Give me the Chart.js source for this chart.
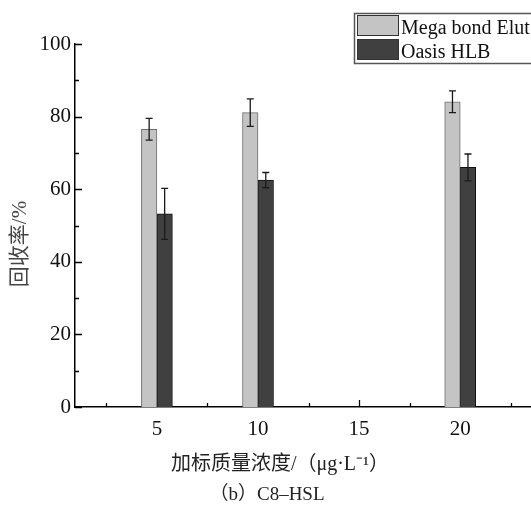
<!DOCTYPE html>
<html><head><meta charset="utf-8">
<script src="https://cdn.jsdelivr.net/npm/chart.js@4.4.0/dist/chart.umd.min.js"></script>
<style>html,body{margin:0;padding:0;background:#fff;overflow:hidden}#wrap{width:531px;height:510px;position:relative}</style>
</head><body><div id="wrap"><canvas id="c" width="531" height="510"></canvas></div>
<script>
const categories = ['5', '10', '15', '20'];
const seriesNames = ['Mega bond Elut', 'Oasis HLB'];
const megaValues = [76.5, 81.1, null, 84.1];
const megaErrors = [3.0, 3.8, null, 3.0];
const oasisValues = [53.2, 62.5, null, 66.0];
const oasisErrors = [7.0, 2.1, null, 3.7];
const yTicks = [0, 20, 40, 60, 80, 100];
const xTitle = '加标质量浓度/（μg·L⁻¹）';
const subTitle = '（b）C8–HSL';
const yTitle = '回收率/%';

const toPoints = vals => vals.map((v, i) => ({x: i + 1, y: v}));
const errorSets = [megaErrors, oasisErrors];

const decor = {
  id: 'decor',
  beforeDatasetsDraw(chart) {
    const ctx = chart.ctx, xs = chart.scales.x, ys = chart.scales.y;
    const a = chart.chartArea;
    ctx.save();
    ctx.strokeStyle = '#000';
    ctx.lineWidth = 1.3;
    ctx.beginPath();
    for (let v = 0; v <= 100; v += 10) {
      const y = Math.round(ys.getPixelForValue(v)) + 0.5;
      const len = v % 20 === 0 ? 7 : 4;
      ctx.moveTo(a.left, y); ctx.lineTo(a.left + len, y);
    }
    for (let k = 1; k <= 9; k++) {
      const v = k / 2;
      const x = Math.round(xs.getPixelForValue(v)) + 0.5;
      const len = k % 2 === 0 ? 7 : 4;
      ctx.moveTo(x, a.bottom); ctx.lineTo(x, a.bottom - len);
    }
    ctx.stroke();
    ctx.restore();
  },
  afterDatasetsDraw(chart) {
    const ctx = chart.ctx, ys = chart.scales.y;
    ctx.save();
    ctx.strokeStyle = '#1a1a1a';
    ctx.lineWidth = 1.3;
    chart.data.datasets.forEach((ds, d) => {
      const meta = chart.getDatasetMeta(d);
      const errs = errorSets[d];
      ds.data.forEach((p, i) => {
        if (p.y == null || errs[i] == null) return;
        const x = meta.data[i].x;
        const yt = ys.getPixelForValue(p.y + errs[i]);
        const yb = ys.getPixelForValue(p.y - errs[i]);
        ctx.beginPath();
        ctx.moveTo(x, yt); ctx.lineTo(x, yb);
        ctx.moveTo(x - 3.5, yt); ctx.lineTo(x + 3.5, yt);
        ctx.moveTo(x - 3.5, yb); ctx.lineTo(x + 3.5, yb);
        ctx.stroke();
      });
    });
    ctx.restore();
  },
  afterDraw(chart) {
    const ctx = chart.ctx;
    ctx.save();
    ctx.fillStyle = '#222';
    ctx.textAlign = 'center';
    ctx.textBaseline = 'middle';
    ctx.font = '20px "Liberation Serif", "Noto Sans CJK SC"';
    ctx.fillText(xTitle, 280, 465);
    ctx.font = '19px "Liberation Serif", "Noto Sans CJK SC"';
    ctx.fillText(subTitle, 267, 495);
    ctx.save();
    ctx.translate(20, 244);
    ctx.rotate(-Math.PI / 2);
    ctx.font = '21px "Liberation Serif", "Noto Sans CJK SC"';
    ctx.fillStyle = '#444';
    ctx.fillText(yTitle, 0, 0);
    ctx.restore();
    // legend
    ctx.strokeStyle = '#555';
    ctx.lineWidth = 1.5;
    ctx.strokeRect(354.5, 13.5, 220, 50);
    ctx.textAlign = 'left';
    ctx.textBaseline = 'alphabetic';
    ctx.font = '20px "Liberation Serif"';
    chart.data.datasets.forEach((ds, d) => {
      const top = 15.5 + d * 24;
      ctx.fillStyle = ds.backgroundColor;
      ctx.fillRect(357.5, top, 41, 20);
      ctx.strokeStyle = '#333';
      ctx.lineWidth = 1;
      ctx.strokeRect(357.5, top, 41, 20);
      ctx.fillStyle = '#111';
      ctx.fillText(ds.label, 401, top + 18.5);
    });
    ctx.restore();
  }
};

new Chart(document.getElementById('c'), {
  type: 'bar',
  data: {
    datasets: [
      {label: seriesNames[0], data: toPoints(megaValues), backgroundColor: '#c4c4c4', borderColor: '#6e6e6e', borderWidth: 1, barThickness: 15.5},
      {label: seriesNames[1], data: toPoints(oasisValues), backgroundColor: '#404040', borderColor: '#111111', borderWidth: 1, barThickness: 15.5}
    ]
  },
  options: {
    responsive: false,
    devicePixelRatio: 1,
    animation: false,
    layout: {padding: {top: 44, right: 0, bottom: 0, left: 0}},
    plugins: {legend: {display: false}, tooltip: {enabled: false}},
    scales: {
      x: {
        type: 'linear',
        offset: false,
        min: 0.19,
        max: 4.7,
        afterBuildTicks: s => { s.ticks = categories.map((c, i) => ({value: i + 1})); },
        afterFit: s => { s.height = 103; },
        grid: {display: false, drawTicks: false, offset: false},
        border: {display: true, color: '#000', width: 1.5},
        ticks: {
          autoSkip: false, maxRotation: 0, padding: 10, color: '#111',
          font: {family: 'Liberation Serif', size: 21},
          callback: v => categories[Math.round(v) - 1]
        }
      },
      y: {
        min: 0,
        max: 100,
        afterBuildTicks: s => { s.ticks = yTicks.map(v => ({value: v})); },
        afterFit: s => { s.width = 75; },
        grid: {display: false, drawTicks: false},
        border: {display: true, color: '#000', width: 1.5},
        ticks: {padding: 4, color: '#111', font: {family: 'Liberation Serif', size: 21}}
      }
    }
  },
  plugins: [decor]
});
</script>
</body></html>
